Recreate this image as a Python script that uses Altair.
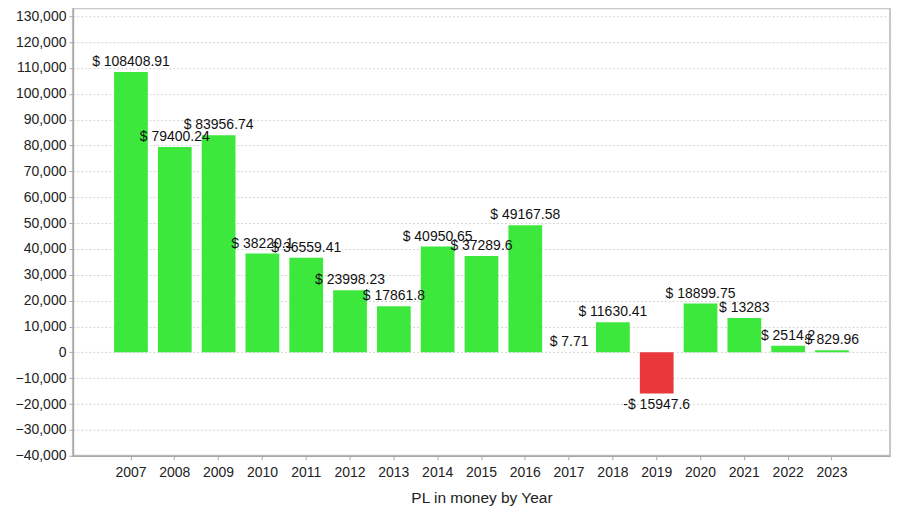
import altair as alt
import pandas as pd

years = ["2007", "2008", "2009", "2010", "2011", "2012", "2013", "2014", "2015",
         "2016", "2017", "2018", "2019", "2020", "2021", "2022", "2023"]
values = [108408.91, 79400.24, 83956.74, 38220.1, 36559.41, 23998.23, 17861.8,
          40950.65, 37289.6, 49167.58, 7.71, 11630.41, -15947.6, 18899.75,
          13283, 2514.2, 829.96]
labels = ["$ 108408.91", "$ 79400.24", "$ 83956.74", "$ 38220.1", "$ 36559.41",
          "$ 23998.23", "$ 17861.8", "$ 40950.65", "$ 37289.6", "$ 49167.58",
          "$ 7.71", "$ 11630.41", "-$ 15947.6", "$ 18899.75", "$ 13283",
          "$ 2514.2", "$ 829.96"]
y_ticks = [-40000, -30000, -20000, -10000, 0, 10000, 20000, 30000, 40000, 50000,
           60000, 70000, 80000, 90000, 100000, 110000, 120000, 130000]

df = pd.DataFrame({"year": years, "value": values, "label": labels})
df["sign"] = ["pos" if v >= 0 else "neg" for v in values]

FONT = "Liberation Sans"

x_enc = alt.X(
    "year:N",
    sort=years,
    scale=alt.Scale(paddingInner=0.23, paddingOuter=0.94),
    axis=alt.Axis(
        title="PL in money by Year",
        labelAngle=0,
        labelFontSize=14,
        labelColor="#222222",
        labelFont=FONT,
        labelPadding=6,
        tickSize=4,
        tickColor="#a8a8a8",
        domainColor="#a8a8a8",
        domainWidth=1.5,
        titleFont=FONT,
        titleFontSize=15.5,
        titleFontWeight="normal",
        titleColor="#222222",
        titlePadding=11,
        grid=False,
    ),
)
y_scale = alt.Scale(domain=[-40000, 133100], nice=False, zero=False)
y_enc = alt.Y(
    "value:Q",
    scale=y_scale,
    axis=alt.Axis(
        title=None,
        values=y_ticks,
        tickCount=40,
        format=",d",
        labelFontSize=14,
        labelColor="#222222",
        labelFont=FONT,
        labelPadding=3,
        labelOverlap=False,
        labelBound=False,
        labelFlush=False,
        tickSize=4,
        tickColor="#a8a8a8",
        domainColor="#a8a8a8",
        domainWidth=1.5,
        grid=True,
        gridColor="#d4d4d4",
        gridDash=[2, 2],
        gridWidth=1,
    ),
)

base = alt.Chart(df)

bars = base.mark_bar().encode(
    x=x_enc,
    y=y_enc,
    y2=alt.datum(0),
    color=alt.Color(
        "sign:N",
        scale=alt.Scale(domain=["pos", "neg"], range=["#3de83d", "#e8383b"]),
        legend=None,
    ),
)

pos_text = base.transform_filter(alt.datum.value >= 0).mark_text(
    baseline="middle", align="center", dy=-10, fontSize=14, font=FONT, color="#111111"
).encode(
    x=alt.X("year:N", sort=years),
    y=alt.Y("value:Q", scale=y_scale),
    text="label:N",
)

neg_text = base.transform_filter(alt.datum.value < 0).mark_text(
    baseline="middle", align="center", dy=11, fontSize=14, font=FONT, color="#111111"
).encode(
    x=alt.X("year:N", sort=years),
    y=alt.Y("value:Q", scale=y_scale),
    text="label:N",
)

chart = alt.layer(bars, pos_text, neg_text).properties(
    width=818,
    height=448,
    autosize=alt.AutoSizeParams(type="none"),
    padding={"left": 65, "top": 0, "right": 2, "bottom": 60},
    background="white",
).configure_view(
    stroke="#c8c8c8",
    strokeWidth=2,
)

chart.save("out.html", embed_options={"renderer": "svg", "actions": False})
